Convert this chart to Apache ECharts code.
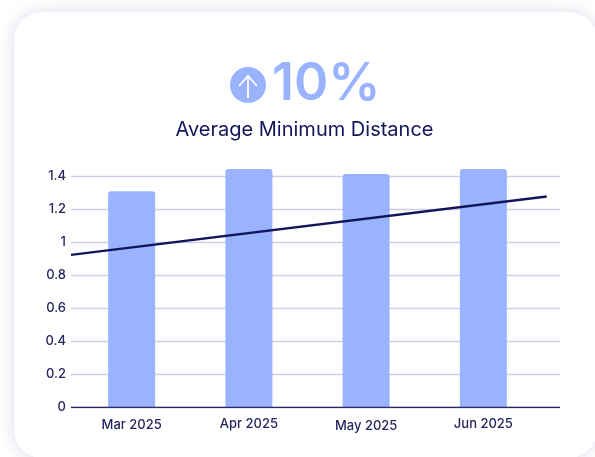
<!DOCTYPE html>
<html><head><meta charset="utf-8">
<style>html,body{margin:0;padding:0;background:#fff;overflow:hidden}#c{width:595px;height:457px}</style>
<script src="https://cdn.jsdelivr.net/npm/echarts@6/dist/echarts.min.js"></script>
</head><body><div id="c"></div>
<script>
const categories = ['Mar 2025','Apr 2025','May 2025','Jun 2025'];
const barValues = [1.31,1.445,1.415,1.445];
const trendX = [-0.516,3.54];
const trendY = [0.925,1.279];
const yTicks = [0,0.2,0.4,0.6,0.8,1,1.2,1.4];
const headline = '10%';
const subtitle = 'Average Minimum Distance';
const labelDrop = [0.5,0,1,0];
const navy='#14145c', blue='#99b3ff', gridc='#cfcfe4';
const font='Inter';
const chart = echarts.init(document.getElementById('c'),null,{renderer:'canvas'});
const rich={};
labelDrop.forEach((d,i)=>{rich['l'+i]={fontFamily:font,fontSize:13,fontWeight:500,color:'#25255f',padding:[d*2,0,0,0]};});
chart.setOption({
  animation:false,
  graphic:[
    {type:'rect',z:-10,silent:true,shape:{x:14,y:12,width:583,height:446,r:28},
     style:{fill:'#fff',shadowBlur:16,shadowColor:'rgba(90,90,160,0.22)',shadowOffsetX:0,shadowOffsetY:0}},
    {type:'circle',shape:{cx:248,cy:85,r:18},style:{fill:blue}},
    {type:'polyline',shape:{points:[[248,98],[248,75]]},style:{stroke:'#fff',lineWidth:1.8,fill:null}},
    {type:'polyline',shape:{points:[[239,86],[248,76],[257,86]]},style:{stroke:'#fff',lineWidth:1.8,fill:null}},
    {type:'text',x:272,y:84,style:{text:headline,fontFamily:font,fontSize:52,fontWeight:600,fill:blue,textVerticalAlign:'middle',textAlign:'left'}},
    {type:'text',x:304.5,y:129.5,style:{text:subtitle,fontFamily:font,fontSize:20,fontWeight:400,fill:navy,textAlign:'center',textVerticalAlign:'middle'}}
  ],
  grid:[
    {left:71,width:489,top:176.5,height:231},
    {left:73,width:469,top:143.5,height:264}
  ],
  xAxis:[
    {type:'value',gridIndex:0,min:-0.516,max:3.653,show:false},
    {type:'category',gridIndex:1,data:categories,axisTick:{show:false},axisLine:{show:false},
     axisLabel:{margin:10,formatter:(v,i)=>`{l${i}|${v}}`,rich}}
  ],
  yAxis:[
    {type:'value',gridIndex:0,min:0,max:1.4,interval:0.2,
     axisLine:{show:false},axisTick:{show:false},
     axisLabel:{margin:5,fontFamily:font,fontSize:13,fontWeight:500,color:'#25255f',formatter:v=>{const t=yTicks.find(k=>Math.abs(k-v)<1e-6);return String(t);}},
     splitLine:{lineStyle:{color:gridc,width:1.3}}},
    {type:'value',gridIndex:1,min:0,max:1.6,interval:0.2,show:false}
  ],
  series:[
    {type:'bar',xAxisIndex:1,yAxisIndex:1,data:barValues,barWidth:47,z:2,
     itemStyle:{color:blue,borderRadius:[3,3,0,0]}},
    {type:'line',xAxisIndex:0,yAxisIndex:0,data:[[trendX[0],trendY[0]],[trendX[1],trendY[1]]],
     showSymbol:false,z:4,lineStyle:{color:navy,width:2.5}},
    {type:'line',xAxisIndex:0,yAxisIndex:0,data:[[-0.516,0],[3.653,0]],showSymbol:false,z:3,
     lineStyle:{color:'#2a2a68',width:1.5}}
  ]
});
</script></body></html>
